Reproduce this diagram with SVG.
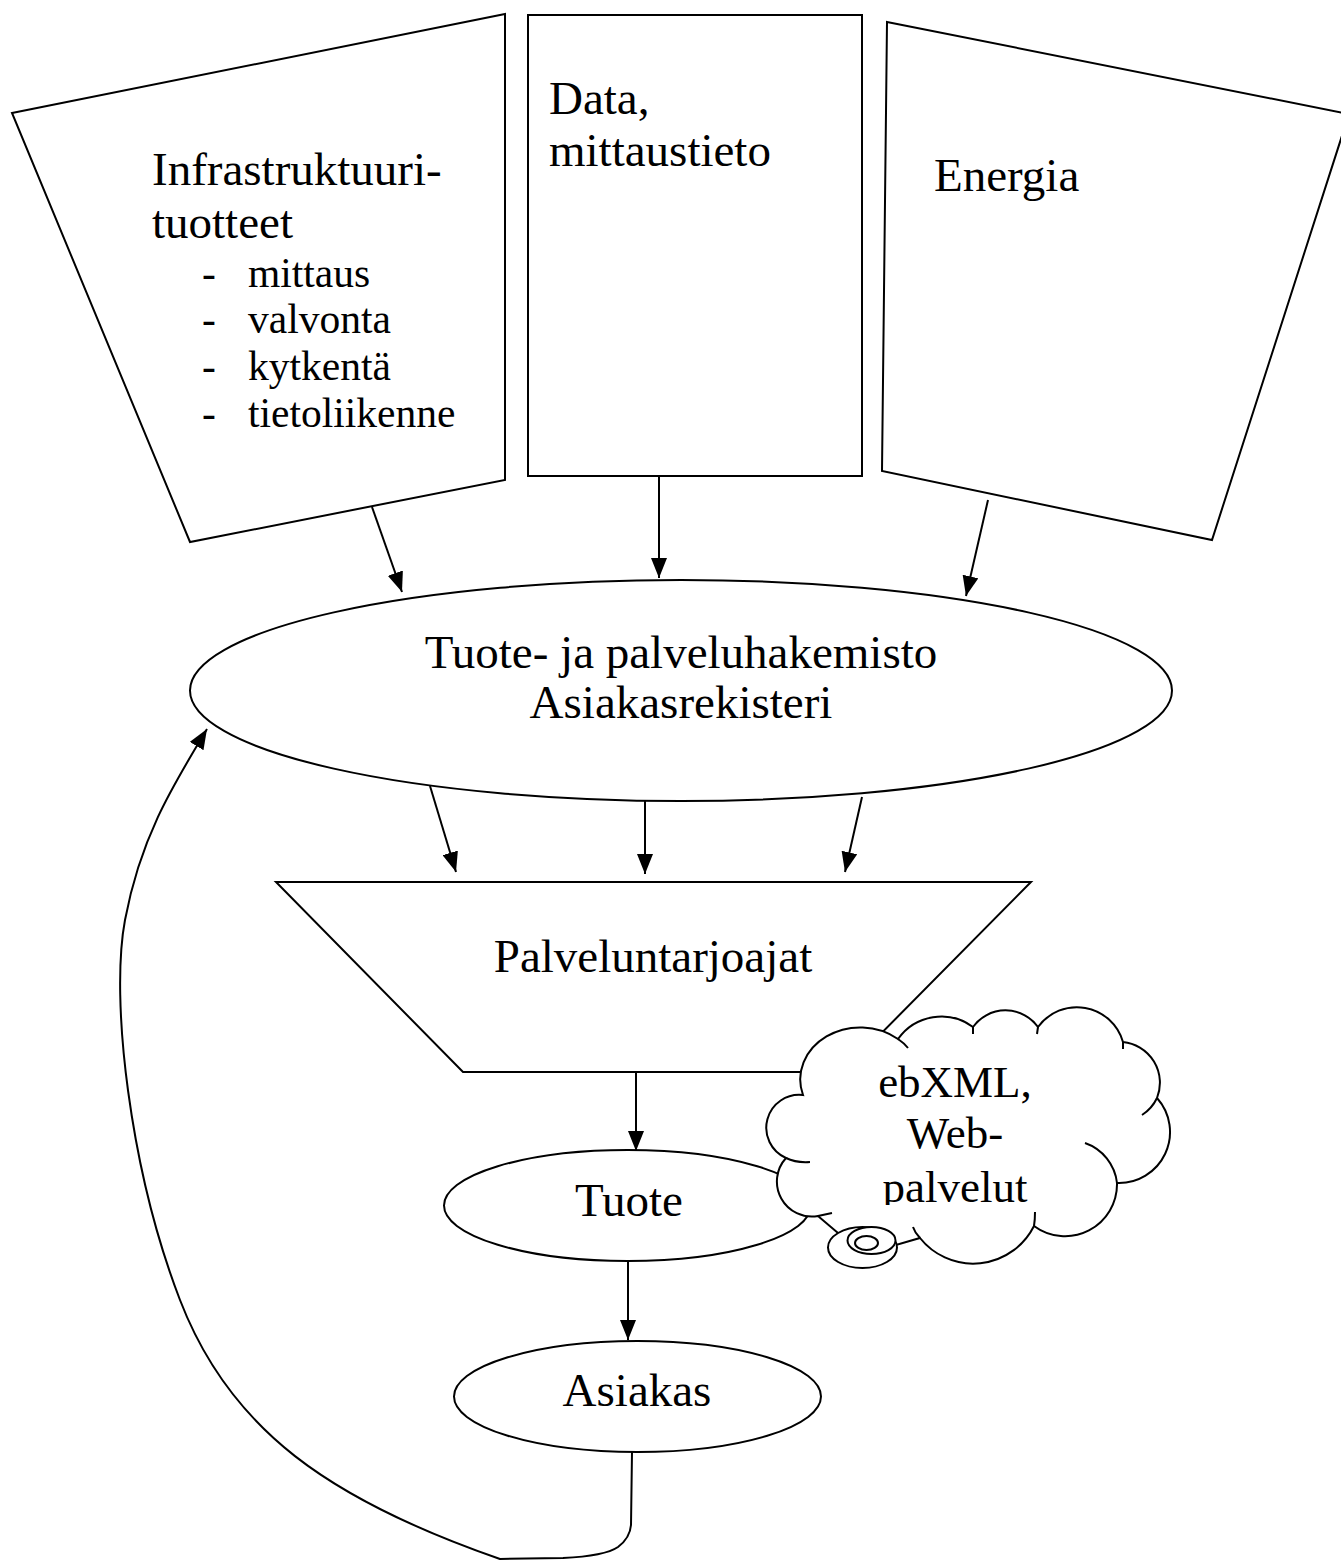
<svg xmlns="http://www.w3.org/2000/svg" width="1341" height="1560" viewBox="0 0 1341 1560">
  <style>
    .shape { fill: #ffffff; stroke: #000000; stroke-width: 2; }
    .line { fill: none; stroke: #000000; stroke-width: 2; }
    .label { font-family: "Liberation Serif", "Times New Roman", serif; font-size: 47px; fill: #000000; }
    .item { font-size: 41.5px; }
    .cloudtext { font-size: 45px; }
    .mid { text-anchor: middle; }
  </style>
  <defs>
    <marker id="arrow" markerUnits="userSpaceOnUse" markerWidth="22" markerHeight="16" refX="20" refY="8" orient="auto">
      <path d="M0,0 L20,8 L0,16 z" fill="#000000"/>
    </marker>
    <clipPath id="cloud-text-clip">
      <rect x="760" y="1000" width="420" height="205"/>
    </clipPath>
  </defs>
  <rect width="1341" height="1560" fill="#ffffff"/>

  <!-- connectors -->
  <g id="connectors">
    <line class="line" x1="372" y1="507" x2="402" y2="592" marker-end="url(#arrow)"/>
    <line class="line" x1="659" y1="477" x2="659" y2="578" marker-end="url(#arrow)"/>
    <line class="line" x1="988" y1="500" x2="966" y2="596" marker-end="url(#arrow)"/>
    <line class="line" x1="430" y1="786" x2="456" y2="872" marker-end="url(#arrow)"/>
    <line class="line" x1="645" y1="801" x2="645" y2="874" marker-end="url(#arrow)"/>
    <line class="line" x1="862" y1="797" x2="845" y2="872" marker-end="url(#arrow)"/>
    <line class="line" x1="636" y1="1073" x2="636" y2="1151" marker-end="url(#arrow)"/>
    <line class="line" x1="628" y1="1261" x2="628" y2="1340" marker-end="url(#arrow)"/>
    <!-- feedback loop from customer back to the registry -->
    <path class="line" d="M632,1452 L631,1525 Q630,1538 618,1547 Q605,1556 563,1558 L500,1559 C330,1500 230,1430 180,1300 C130,1170 110,1000 125,920 C140,840 170,790 207,729" marker-end="url(#arrow)"/>
  </g>

  <!-- top row -->
  <g id="infrastructure">
    <polygon class="shape" points="12,113 505,14 505,480 190,542"/>
    <text class="label" x="152" y="185">Infrastruktuuri-</text>
    <text class="label" x="152" y="238">tuotteet</text>
    <text class="label item" x="202" y="287">-</text>
    <text class="label item" x="248" y="287">mittaus</text>
    <text class="label item" x="202" y="333">-</text>
    <text class="label item" x="248" y="333">valvonta</text>
    <text class="label item" x="202" y="380">-</text>
    <text class="label item" x="248" y="380">kytkentä</text>
    <text class="label item" x="202" y="427">-</text>
    <text class="label item" x="248" y="427">tietoliikenne</text>
  </g>
  <g id="data">
    <rect class="shape" x="528" y="15" width="334" height="461"/>
    <text class="label" x="549" y="114">Data,</text>
    <text class="label" x="549" y="166">mittaustieto</text>
  </g>
  <g id="energy">
    <polygon class="shape" points="887,22 1349,114 1212,540 882,471"/>
    <text class="label" x="934" y="191">Energia</text>
  </g>

  <!-- registry -->
  <g id="registry">
    <ellipse class="shape" cx="681" cy="690.5" rx="491" ry="110.5"/>
    <text class="label mid" x="681" y="668">Tuote- ja palveluhakemisto</text>
    <text class="label mid" x="681" y="718">Asiakasrekisteri</text>
  </g>

  <!-- service providers -->
  <g id="providers">
    <polygon class="shape" points="276,882 1031,882 843,1072 463,1072"/>
    <text class="label mid" x="653" y="972">Palveluntarjoajat</text>
  </g>

  <!-- product -->
  <g id="product">
    <ellipse class="shape" cx="627.5" cy="1205.5" rx="183.5" ry="55.5"/>
    <text class="label mid" x="629" y="1216">Tuote</text>
  </g>

  <!-- customer -->
  <g id="customer">
    <ellipse class="shape" cx="637.5" cy="1396.5" rx="183.5" ry="55.5"/>
    <text class="label mid" x="637" y="1406">Asiakas</text>
  </g>

  <!-- thought cloud -->
  <g id="cloud">
    <path class="shape" d="M838,1233 L818,1216 A35,35 0 0 1 786,1158 A33,33 0 0 1 803,1095 A60,52 0 0 1 898,1039 A53,53 0 0 1 973,1027 A40,40 0 0 1 1038,1027 A48,48 0 0 1 1123,1042 A41,41 0 0 1 1157,1098 A51,51 0 0 1 1117,1183 A52,52 0 0 1 1034,1226 A68,68 0 0 1 920,1238 L896,1245 Z"/>
    <path class="line" d="M818,1216 L832,1213 M786,1158 Q796,1163 810,1162 M898,1039 Q904,1043 908,1048 M973,1027 L973,1034 M1038,1027 L1037,1034 M1123,1042 L1123,1049 M1157,1098 A41,41 0 0 1 1142,1115 M1085,1143 A48,48 0 0 1 1117,1183 M1035,1212 Q1035,1220 1034,1226 M920,1238 Q915,1233 913,1227"/>
    <ellipse class="shape" cx="862.5" cy="1247.5" rx="34.5" ry="20.5"/>
    <ellipse class="shape" cx="871.5" cy="1240.5" rx="24" ry="13.5"/>
    <ellipse class="shape" cx="866.5" cy="1243" rx="11.5" ry="7"/>
    <g clip-path="url(#cloud-text-clip)">
      <text class="label cloudtext mid" x="955" y="1097">ebXML,</text>
      <text class="label cloudtext mid" x="955" y="1148">Web-</text>
      <text class="label cloudtext mid" x="955" y="1202">palvelut</text>
    </g>
  </g>
</svg>
